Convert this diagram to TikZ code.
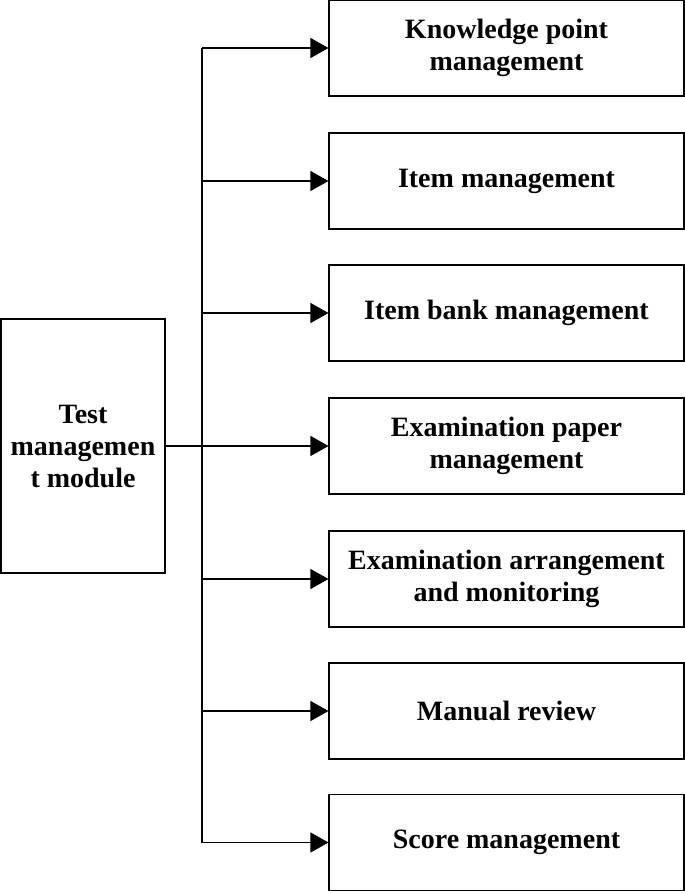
\documentclass[tikz,border=0pt]{standalone}
\usepackage{fontspec}
\setmainfont{Liberation Serif}
\usetikzlibrary{arrows.meta}
\tikzset{
  modbox/.style={draw, line width=0.8pt, minimum width=266.25pt, minimum height=72pt, inner sep=0pt, align=center, font=\bfseries\fontsize{21}{24}\selectfont},
  mainbox/.style={draw, line width=0.8pt, minimum width=123pt, minimum height=190.5pt, inner sep=0pt, align=center, font=\bfseries\fontsize{21}{24}\selectfont},
  arr/.style={line width=0.8pt, -{Triangle[length=13.5pt, width=15pt]}}
}

\begin{document}
\begin{tikzpicture}[x=0.75pt,y=0.75pt,yscale=-1,xscale=1]
        \useasboundingbox (0,0) rectangle (685,893);

        % main module
        \node [mainbox] (test) at (83,446) {Test\\managemen\\t module};

        % sub modules
        \node [modbox] (know) at (506.5,48) {Knowledge point\\management};
        \node [modbox] (item) at (506.5,181) {Item management};
        \node [modbox] (bank) at (506.5,313) {Item bank management};
        \node [modbox] (paper) at (506.5,446) {Examination paper\\management};
        \node [modbox] (arrange) at (506.5,579) {Examination arrangement\\and monitoring};
        \node [modbox] (review) at (506.5,711) {Manual review};
        \node [modbox] (score) at (506.5,842.5) {Score management};

        % bus
        \coordinate (bus) at (202,446);
        \draw [line width=0.8pt] (test.east) -- (bus);
        \draw [line width=0.8pt] (bus |- know.west) -- (bus |- score.west);
        \foreach \n in {know,item,bank,paper,arrange,review,score}
          \draw [arr] (bus |- \n.west) -- (\n.west);

\end{tikzpicture}
\end{document}
